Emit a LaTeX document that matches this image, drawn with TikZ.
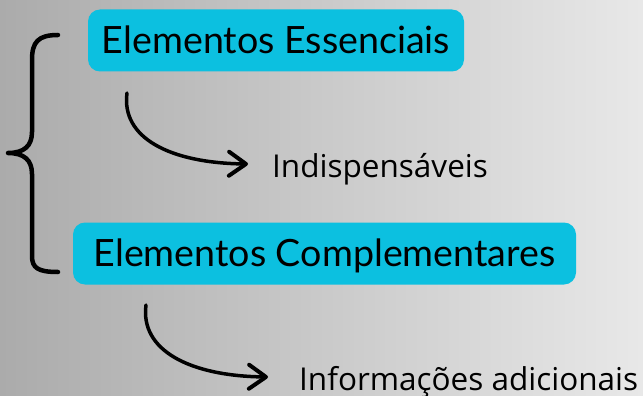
\documentclass[tikz,border=0pt]{standalone}
\usepackage{fontspec}
\setmainfont{Open Sans}
\newfontfamily\boxfont{Lato}
\usetikzlibrary{arrows.meta}
\definecolor{caixaazul}{HTML}{0CC0E0}
\definecolor{fundoesq}{HTML}{ABABAB}
\definecolor{fundodir}{HTML}{E8E8E8}
\tikzset{
  caixa/.style={fill=caixaazul, rounded corners=12pt, minimum height=62pt,
    inner xsep=4pt, text height=26pt, text depth=0pt,
    font=\boxfont\fontsize{37.6}{40}\selectfont},
  rotulo/.style={inner sep=0pt, anchor=base west, font=\fontsize{31.5}{34}\selectfont},
  seta/.style={line width=3.5pt, line cap=round,
    -{Straight Barb[length=17pt,width=24pt,line width=4pt,round]}},
}
\begin{document}
\begin{tikzpicture}[x=1pt,y=-1pt]
\shade[left color=fundoesq, right color=fundodir] (0,0) rectangle (643,396);
\useasboundingbox (0,0) rectangle (643,396);

% caixas
\node[caixa, minimum width=376pt] (essenciais) at (276,40.5) {Elementos Essenciais};
\node[caixa, minimum width=503pt] (complementares) at (324.5,253.5) {Elementos Complementares};

% chave
\draw[line width=4.5pt, line cap=round, line join=round]
  (58,35) .. controls (38,35) and (32,42) .. (32,60) -- (32,132)
  .. controls (32,146) and (24,153) .. (8,153)
  .. controls (24,153) and (32,160) .. (32,174) -- (32,256)
  .. controls (32,268) and (38,272) .. (58,272);

% setas e rotulos
\coordinate (s1) at (127,93);
\coordinate (e1) at (248,164);
\draw[seta] (s1) .. controls (121,138) and (170,163) .. (e1);
\node[rotulo] (indisp) at (272,177) {Indispensáveis};

\coordinate (s2) at (146,305);
\coordinate (e2) at (268,377);
\draw[seta] (s2) .. controls (140,350) and (189,376) .. (e2);
\node[rotulo] (adicionais) at (299,390) {Informações adicionais};

\end{tikzpicture}
\end{document}
